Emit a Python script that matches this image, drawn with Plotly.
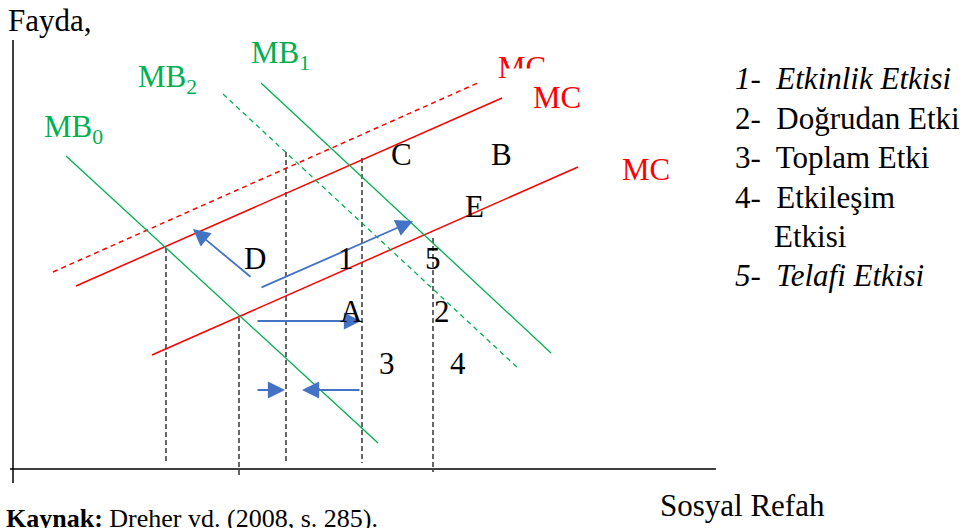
import plotly.graph_objects as go

W, H = 969, 528

# ---- diagram data (pixel-space coordinates of the schematic) ----
# Marginal benefit curves
mb_labels = ["MB<sub>0</sub>", "MB<sub>2</sub>", "MB<sub>1</sub>"]
mb_x0 = [66, 223, 261]
mb_y0 = [156, 94, 83]
mb_x1 = [378, 519, 551]
mb_y1 = [443, 369, 353]
mb_dash = ["solid", "dash", "solid"]
mb_label_x = [73, 167, 280]
mb_label_y = [129, 79, 55]

# Marginal cost curves
mc_x0 = [53, 76, 152]
mc_y0 = [272, 286, 355]
mc_x1 = [480, 502, 578]
mc_y1 = [82, 98, 167]
mc_dash = ["dash", "solid", "solid"]
mc_label_x = [522, 557, 646]
mc_label_y = [67, 97, 169]

# Vertical dashed guide lines
vx = [166, 239, 286, 362, 433]
vtop = [248, 318, 152, 158, 238]
vbot = [464, 477, 461, 463, 472]

# Blue arrows (tail -> tip)
ar_tx = [252, 260, 256, 256, 361]
ar_ty = [278, 288, 321, 390, 390]
ar_hx = [193, 413, 361, 285, 302]
ar_hy = [229, 221, 321, 390, 390]

# Point / region labels
pt_text = ["C", "B", "E", "D", "1", "5", "A", "2", "3", "4"]
pt_x = [401, 501, 474, 255, 346, 433, 351, 442, 387, 458]
pt_y = [154, 154, 206, 258, 258, 258, 311, 311, 363, 363]

# Legend of effects
leg_text = ["<i>1-  Etkinlik Etkisi</i>", "2-  Doğrudan Etki", "3-  Toplam Etki",
            "4-  Etkileşim", "Etkisi", "<i>5-  Telafi Etkisi</i>"]
leg_x = [733, 733, 733, 733, 772, 733]
leg_y = [78, 118, 157, 197, 236, 275]

GREEN = "#00B050"
RED = "#FF0000"
BLUE = "#4472C4"
SERIF = "Liberation Serif"

fig = go.Figure()

# axes of the diagram
fig.add_trace(go.Scatter(x=[13, 13], y=[40, 483], mode="lines",
                         line=dict(color="black", width=1.5), hoverinfo="skip"))
fig.add_trace(go.Scatter(x=[10, 716], y=[469, 469], mode="lines",
                         line=dict(color="black", width=1.5), hoverinfo="skip"))

for i in range(len(vx)):
    fig.add_trace(go.Scatter(x=[vx[i], vx[i]], y=[vtop[i], vbot[i]], mode="lines",
                             line=dict(color="black", width=1.2, dash="5px,3px"),
                             hoverinfo="skip"))

for i in range(len(mc_x0)):
    fig.add_trace(go.Scatter(x=[mc_x0[i], mc_x1[i]], y=[mc_y0[i], mc_y1[i]], mode="lines",
                             line=dict(color=RED, width=1.5,
                                       dash="5px,4px" if mc_dash[i] == "dash" else "solid"),
                             hoverinfo="skip"))

for i in range(len(mb_x0)):
    fig.add_trace(go.Scatter(x=[mb_x0[i], mb_x1[i]], y=[mb_y0[i], mb_y1[i]], mode="lines",
                             line=dict(color=GREEN, width=1.3,
                                       dash="5px,4px" if mb_dash[i] == "dash" else "solid"),
                             hoverinfo="skip"))

ann = []
for i in range(len(ar_tx)):
    ann.append(dict(x=ar_hx[i], y=ar_hy[i], ax=ar_tx[i], ay=ar_ty[i],
                    xref="x", yref="y", axref="x", ayref="y", text="",
                    showarrow=True, arrowhead=2, arrowsize=1.9, arrowwidth=1.8,
                    arrowcolor=BLUE, standoff=0, startstandoff=0))

for i in range(len(mb_labels)):
    ann.append(dict(x=mb_label_x[i], y=mb_label_y[i], text=mb_labels[i], showarrow=False,
                    xref="x", yref="y", xanchor="center", yanchor="middle",
                    font=dict(family=SERIF, size=31, color=GREEN)))

for i in range(len(mc_label_x)):
    ann.append(dict(x=mc_label_x[i], y=mc_label_y[i], text="MC", showarrow=False,
                    xref="x", yref="y", xanchor="center", yanchor="middle",
                    font=dict(family=SERIF, size=31, color=RED)))
    if i == 0:
        # white patch that hides the lower part of the first MC label, as in the source
        ann.append(dict(x=534, y=75, text=" ", showarrow=False, xref="x", yref="y",
                        xanchor="center", yanchor="middle", width=56, height=12,
                        bgcolor="white", borderpad=0,
                        font=dict(family=SERIF, size=8, color="white")))

for i in range(len(pt_text)):
    ann.append(dict(x=pt_x[i], y=pt_y[i], text=pt_text[i], showarrow=False,
                    xref="x", yref="y", xanchor="center", yanchor="middle",
                    font=dict(family=SERIF, size=31, color="black")))

for i in range(len(leg_text)):
    ann.append(dict(x=leg_x[i], y=leg_y[i], text=leg_text[i], showarrow=False,
                    xref="x", yref="y", xanchor="left", yanchor="middle",
                    font=dict(family=SERIF, size=31, color="black")))

ann.append(dict(x=6, y=20, text="Fayda,", showarrow=False, xref="x", yref="y",
                xanchor="left", yanchor="middle",
                font=dict(family=SERIF, size=31, color="black")))
ann.append(dict(x=658, y=505, text="Sosyal Refah", showarrow=False, xref="x", yref="y",
                xanchor="left", yanchor="middle",
                font=dict(family=SERIF, size=31, color="black")))
ann.append(dict(x=4, y=518, text="<b>Kaynak:</b> Dreher vd. (2008, s. 285).", showarrow=False,
                xref="x", yref="y", xanchor="left", yanchor="middle",
                font=dict(family=SERIF, size=26, color="black")))

fig.update_layout(
    width=W, height=H,
    margin=dict(l=0, r=0, t=0, b=0),
    paper_bgcolor="white", plot_bgcolor="white",
    showlegend=False,
    xaxis=dict(range=[0, W], visible=False, fixedrange=True),
    yaxis=dict(range=[H, 0], visible=False, fixedrange=True),
    annotations=ann,
)

fig.write_html("out.html", config={"displayModeBar": False},
               post_script="document.body.style.margin='0';document.body.style.overflow='hidden';")
